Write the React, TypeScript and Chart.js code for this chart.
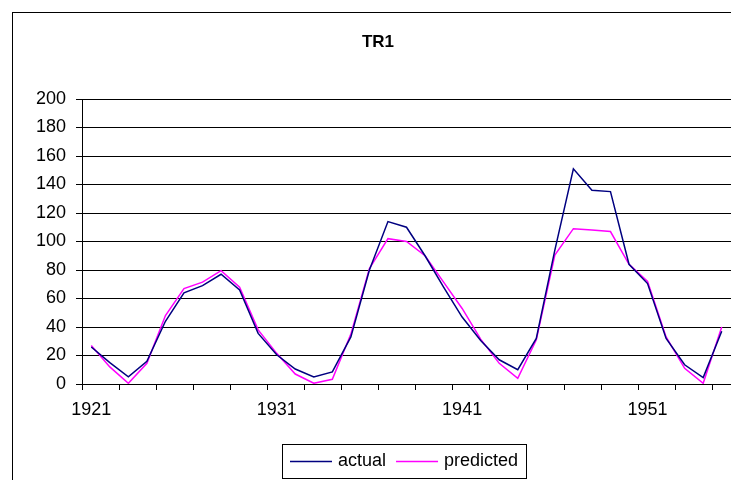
import React, { useEffect, useRef } from "react";
import { Chart, registerables } from "chart.js";

Chart.register(...registerables);

const TITLE = "TR1";
const YEARS = [
  "1921", "1922", "1923", "1924", "1925", "1926", "1927", "1928", "1929", "1930",
  "1931", "1932", "1933", "1934", "1935", "1936", "1937", "1938", "1939", "1940",
  "1941", "1942", "1943", "1944", "1945", "1946", "1947", "1948", "1949", "1950",
  "1951", "1952", "1953", "1954", "1955",
];
const ACTUAL = [
  26, 15, 5, 16, 44, 64, 69, 77, 66, 35.5,
  20.5, 10.5, 5, 8.5, 33, 80, 114, 110, 90, 68,
  47, 30.5, 17, 10, 32, 94, 151, 136, 135, 84,
  70.5, 32, 13.5, 4.5, 37,
];
const PREDICTED = [
  27, 12, 0.5, 14.5, 48, 67, 71.5, 79.5, 68, 38,
  21.5, 7, 0.5, 3.3, 35, 81, 102, 100, 90, 71.5,
  53, 31.5, 14.5, 4, 31, 90.5, 109, 108, 107, 84,
  72, 33, 11, 0.5, 40,
];
const SERIES_NAMES = ["actual", "predicted"];
const SERIES_COLORS = ["#000080", "#FF00FF"];
const Y_MIN = 0;
const Y_MAX = 200;
const Y_STEP = 20;

const FONT = '"Liberation Sans", Arial, Helvetica, sans-serif';

const decorPlugin = {
  id: "decor",
  afterDraw(chart: any) {
    const ctx = chart.ctx as CanvasRenderingContext2D;
    ctx.save();
    // outer chart border (clipped by canvas on right/bottom)
    ctx.strokeStyle = "#000";
    ctx.lineWidth = 1;
    ctx.strokeRect(12.5, 12.5, 900, 700);
    // title
    ctx.fillStyle = "#000";
    ctx.font = `bold 17px ${FONT}`;
    ctx.textAlign = "center";
    ctx.textBaseline = "middle";
    ctx.fillText(TITLE, 378, 42);
    // legend
    ctx.font = `18px ${FONT}`;
    const ds = chart.data.datasets;
    const lineW = 42;
    const pad = 8;
    const gapLT = 6;
    const gapItems = 10;
    const widths = ds.map((d: any) => ctx.measureText(d.label).width);
    let total = pad * 2;
    widths.forEach((w: number, i: number) => {
      total += lineW + gapLT + w + (i < widths.length - 1 ? gapItems : 0);
    });
    const cx = 404;
    const left = Math.round(cx - total / 2);
    const top = 444;
    const h = 34;
    ctx.strokeStyle = "#000";
    ctx.lineWidth = 1;
    ctx.strokeRect(left + 0.5, top + 0.5, Math.round(total), h);
    const cy = top + h / 2 + 0.5;
    let x = left + pad;
    ctx.textAlign = "left";
    ds.forEach((d: any, i: number) => {
      ctx.strokeStyle = d.borderColor;
      ctx.lineWidth = 1.5;
      ctx.beginPath();
      ctx.moveTo(x, cy);
      ctx.lineTo(x + lineW, cy);
      ctx.stroke();
      x += lineW + gapLT;
      ctx.fillStyle = "#000";
      ctx.fillText(d.label, x, cy);
      x += widths[i] + gapItems;
    });
    ctx.restore();
  },
};

export default function App() {
  const ref = useRef<HTMLCanvasElement | null>(null);

  useEffect(() => {
    if (!ref.current) return;
    const chart = new Chart(ref.current, {
      type: "line",
      data: {
        labels: YEARS,
        datasets: [
          {
            label: SERIES_NAMES[0],
            data: ACTUAL,
            borderColor: SERIES_COLORS[0],
            backgroundColor: SERIES_COLORS[0],
            borderWidth: 1.5,
            pointRadius: 0,
            tension: 0,
          },
          {
            label: SERIES_NAMES[1],
            data: PREDICTED,
            borderColor: SERIES_COLORS[1],
            backgroundColor: SERIES_COLORS[1],
            borderWidth: 1.5,
            pointRadius: 0,
            tension: 0,
          },
        ],
      },
      options: {
        responsive: false,
        animation: false,
        devicePixelRatio: 1,
        layout: { padding: { top: 99, left: 0, right: 0, bottom: 0 } },
        plugins: {
          legend: { display: false },
          title: { display: false },
          tooltip: { enabled: false },
        },
        scales: {
          x: {
            type: "category",
            offset: true,
            grid: {
              offset: true,
              drawOnChartArea: false,
              drawTicks: true,
              tickLength: 6,
              color: (c: any) => (c.index % 2 === 0 ? "#000" : "rgba(0,0,0,0)"),
            },
            border: { display: true, color: "#000", width: 1 },
            ticks: {
              autoSkip: false,
              maxRotation: 0,
              minRotation: 0,
              padding: 9,
              color: "#000",
              font: { family: FONT, size: 18 },
              callback: function (this: any, _v: any, i: number) {
                return i % 10 === 0 ? YEARS[i] : "";
              },
            },
            afterFit: (s: any) => {
              s.height = 96;
            },
          },
          y: {
            min: Y_MIN,
            max: Y_MAX,
            grid: {
              color: "#000",
              lineWidth: 1,
              drawTicks: true,
              tickLength: 6,
            },
            border: { display: true, color: "#000", width: 1 },
            ticks: {
              stepSize: Y_STEP,
              padding: 10,
              color: "#000",
              font: { family: FONT, size: 18 },
            },
            afterFit: (s: any) => {
              s.width = 82;
            },
          },
        },
      },
      plugins: [decorPlugin],
    });
    return () => chart.destroy();
  }, []);

  return (
    <div style={{ position: "fixed", left: 0, top: 0, width: 731, height: 480, overflow: "hidden", background: "#fff" }}>
      <canvas ref={ref} width={731} height={480} style={{ display: "block" }} />
    </div>
  );
}
